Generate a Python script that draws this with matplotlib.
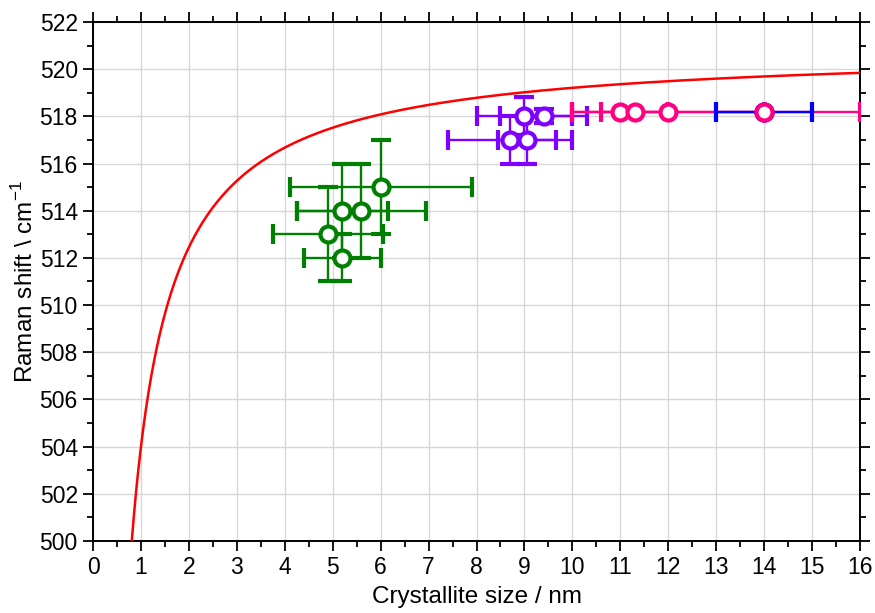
import numpy as np
import matplotlib.pyplot as plt
from matplotlib.ticker import MultipleLocator

plt.rcParams['font.family'] = ['Liberation Sans', 'DejaVu Sans']
plt.rcParams['mathtext.fontset'] = 'custom'
plt.rcParams['mathtext.rm'] = 'Liberation Sans'

# phonon confinement model curve: w = w0 - A / L^gamma
w0, A, gamma = 520.9, 16.9, 1.0

# green set
green_x = [6.0, 5.2, 5.6, 4.9, 5.2]
green_y = [515, 514, 514, 513, 512]
green_xerr = [1.9, 0.95, 1.35, 1.15, 0.8]
green_yerr = [2, 2, 2, 2, 1]

# purple set
purple_x = [9.0, 9.4, 8.7, 9.05]
purple_y = [518, 518, 517, 517]
purple_xerr = [1.0, 0.9, 1.3, 0.6]
purple_yerr = [0.8, 0.3, 1.0, 1.0]

# pink set
pink_x = [11.0, 11.3, 12.0, 14.0]
pink_y = [518.2, 518.2, 518.2, 518.2]
pink_xerr = [1.0, 0.7, 2.0, 2.0]

# blue set
blue_x = [14.0]
blue_y = [518.2]
blue_xerr = [1.0]

fig = plt.figure(figsize=(8.75, 6.13), dpi=100)
ax = fig.add_axes([0.1063, 0.1175, 0.8766, 0.8466])

L = np.linspace(0.5, 16, 800)
ax.plot(L, w0 - A / L ** gamma, color='#ff0000', lw=1.8, zorder=3)

style = dict(fmt='o', ms=11.5, mew=3.0, mfc='white', elinewidth=1.7,
             capsize=7, capthick=1.7, zorder=4)
ax.errorbar(green_x, green_y, xerr=green_xerr, yerr=green_yerr,
            color='#008000', **style)
ax.errorbar(purple_x, purple_y, xerr=purple_xerr, yerr=purple_yerr,
            color='#8000ff', **style)
ax.errorbar(pink_x, pink_y, xerr=pink_xerr, color='#ff0080', **style)
ax.errorbar(blue_x, blue_y, xerr=blue_xerr, color='#0000ff', **style)
ax.plot(pink_x[-1:], pink_y[-1:], 'o', ms=11.5, mew=3.0, mfc='white',
        color='#ff0080', zorder=6)

ax.set_xlim(0, 16)
ax.set_ylim(500, 522)
ax.xaxis.set_major_locator(MultipleLocator(1))
ax.xaxis.set_minor_locator(MultipleLocator(0.5))
ax.yaxis.set_major_locator(MultipleLocator(2))
ax.yaxis.set_minor_locator(MultipleLocator(1))
ax.grid(True, which='major', color='#d8d8d8', lw=1.0, zorder=0)
ax.set_axisbelow(True)

ax.tick_params(which='both', direction='out', top=True, right=True,
               width=1.3, labelsize=16.5, colors='black')
ax.tick_params(which='major', length=7, pad=4)
ax.tick_params(which='minor', length=4)
for s in ax.spines.values():
    s.set_linewidth(1.4)

ax.set_xlabel('Crystallite size / nm', fontsize=17.5, labelpad=5)
ax.set_ylabel(r'Raman shift \ cm$^{\mathregular{-1}}$', fontsize=17.5, labelpad=1)

fig.savefig('out.png', dpi=100)
